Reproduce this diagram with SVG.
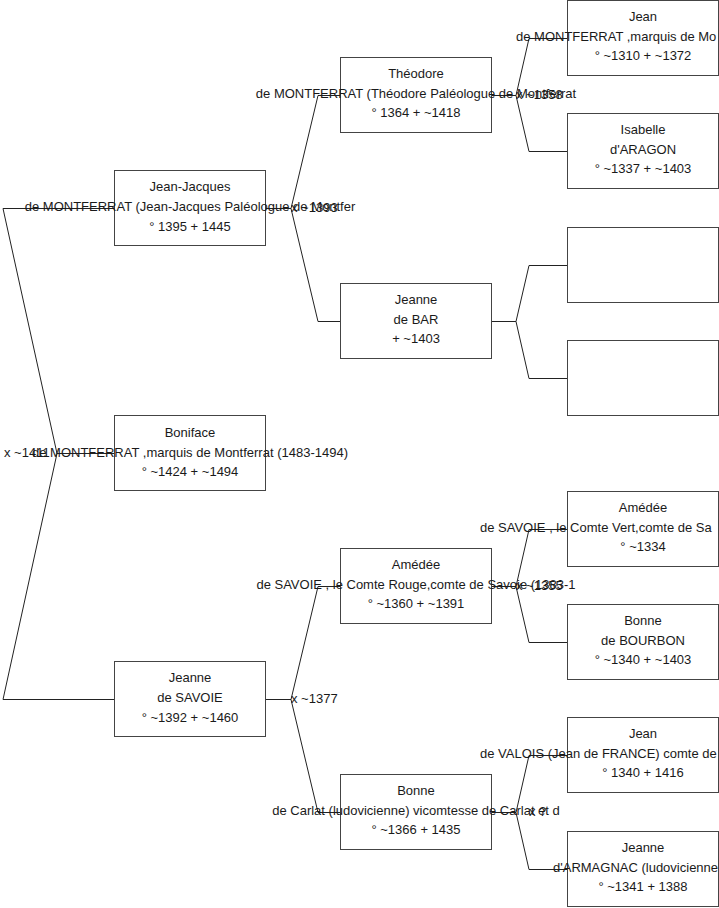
<svg xmlns="http://www.w3.org/2000/svg" width="719" height="908" viewBox="0 0 719 908">
<style>
rect.box{fill:#fff;stroke:#444;stroke-width:1}
text{font-family:"Liberation Sans",Arial,sans-serif;font-size:13px;fill:#1a1a1a}
.c{text-anchor:middle}
path.ln{fill:none;stroke:#222;stroke-width:1}
</style>
<rect width="719" height="908" fill="#fff"/>
<g id="connectors">
<path class="ln" d="M114 453.5 H57 L3 208.5 H114 M57 453.5 L3 699.5 H114"/>
<path class="ln" d="M265 208.5 H291 L318 95.5 H340 M291 208.5 L318 321.5 H340"/>
<path class="ln" d="M265 699.5 H291 L318 586.5 H340 M291 699.5 L318 812.5 H340"/>
<path class="ln" d="M491 95.5 H516 L529 38.5 H567 M516 95.5 L529 151.5 H567"/>
<path class="ln" d="M491 321.5 H516 L529 265.5 H567 M516 321.5 L529 378.5 H567"/>
<path class="ln" d="M491 586.5 H516 L529 529.5 H567 M516 586.5 L529 642.5 H567"/>
<path class="ln" d="M491 812.5 H516 L529 755.5 H567 M516 812.5 L529 869.5 H567"/>
</g>
<g id="n_jeanjacques">
<rect class="box" x="114.5" y="170.5" width="151" height="75"/>
<text class="c" x="190" y="191">Jean-Jacques</text>
<text class="c" x="190" y="211">de MONTFERRAT (Jean-Jacques Paléologue de Montfer</text>
<text class="c" x="190" y="231">° 1395 + 1445</text>
</g>
<g id="n_boniface">
<rect class="box" x="114.5" y="415.5" width="151" height="75"/>
<text class="c" x="190" y="437">Boniface</text>
<text class="c" x="190" y="457">de MONTFERRAT ,marquis de Montferrat (1483-1494)</text>
<text class="c" x="190" y="476">° ~1424 + ~1494</text>
</g>
<g id="n_jeannesavoie">
<rect class="box" x="114.5" y="661.5" width="151" height="75"/>
<text class="c" x="190" y="682">Jeanne</text>
<text class="c" x="190" y="702">de SAVOIE</text>
<text class="c" x="190" y="722">° ~1392 + ~1460</text>
</g>
<g id="n_theodore">
<rect class="box" x="340.5" y="57.5" width="151" height="75"/>
<text class="c" x="416" y="78">Théodore</text>
<text class="c" x="416" y="98">de MONTFERRAT (Théodore Paléologue de Montferrat</text>
<text class="c" x="416" y="117">° 1364 + ~1418</text>
</g>
<g id="n_jeannebar">
<rect class="box" x="340.5" y="283.5" width="151" height="75"/>
<text class="c" x="416" y="304">Jeanne</text>
<text class="c" x="416" y="324">de BAR</text>
<text class="c" x="416" y="343">+ ~1403</text>
</g>
<g id="n_amedeerouge">
<rect class="box" x="340.5" y="548.5" width="151" height="75"/>
<text class="c" x="416" y="569">Amédée</text>
<text class="c" x="416" y="589">de SAVOIE , le Comte Rouge,comte de Savoie (1383-1</text>
<text class="c" x="416" y="608">° ~1360 + ~1391</text>
</g>
<g id="n_bonnecarlat">
<rect class="box" x="340.5" y="774.5" width="151" height="75"/>
<text class="c" x="416" y="795">Bonne</text>
<text class="c" x="416" y="815">de Carlat (ludovicienne) vicomtesse de Carlat et d</text>
<text class="c" x="416" y="834">° ~1366 + 1435</text>
</g>
<g id="n_jeanmontferrat">
<rect class="box" x="567.5" y="0.5" width="151" height="75"/>
<text class="c" x="643" y="21">Jean</text>
<text x="516" y="41">de MONTFERRAT ,marquis de Mo</text>
<text class="c" x="643" y="60">° ~1310 + ~1372</text>
</g>
<g id="n_isabelle">
<rect class="box" x="567.5" y="113.5" width="151" height="75"/>
<text class="c" x="643" y="134">Isabelle</text>
<text class="c" x="643" y="154">d'ARAGON</text>
<text class="c" x="643" y="173">° ~1337 + ~1403</text>
</g>
<g id="n_empty1">
<rect class="box" x="567.5" y="227.5" width="151" height="75"/>
</g>
<g id="n_empty2">
<rect class="box" x="567.5" y="340.5" width="151" height="75"/>
</g>
<g id="n_amedeevert">
<rect class="box" x="567.5" y="491.5" width="151" height="75"/>
<text class="c" x="643" y="512">Amédée</text>
<text x="480" y="532">de SAVOIE , le Comte Vert,comte de Sa</text>
<text class="c" x="643" y="551">° ~1334</text>
</g>
<g id="n_bonnebourbon">
<rect class="box" x="567.5" y="604.5" width="151" height="75"/>
<text class="c" x="643" y="625">Bonne</text>
<text class="c" x="643" y="645">de BOURBON</text>
<text class="c" x="643" y="664">° ~1340 + ~1403</text>
</g>
<g id="n_jeanvalois">
<rect class="box" x="567.5" y="717.5" width="151" height="75"/>
<text class="c" x="643" y="738">Jean</text>
<text x="480" y="758">de VALOIS (Jean de FRANCE) comte de</text>
<text class="c" x="643" y="777">° 1340 + 1416</text>
</g>
<g id="n_jeannearmagnac">
<rect class="box" x="567.5" y="831.5" width="151" height="75"/>
<text class="c" x="643" y="852">Jeanne</text>
<text x="553" y="872">d'ARMAGNAC (ludovicienne</text>
<text class="c" x="643" y="891">° ~1341 + 1388</text>
</g>
<g id="labels">
<text x="4" y="457">x ~1411</text>
<text x="291" y="212">x ~1393</text>
<text x="291" y="703">x ~1377</text>
<text x="516" y="99">x ~1358</text>
<text x="516" y="590">x ~1355</text>
<text x="529" y="816">x ?</text>
</g>
</svg>
